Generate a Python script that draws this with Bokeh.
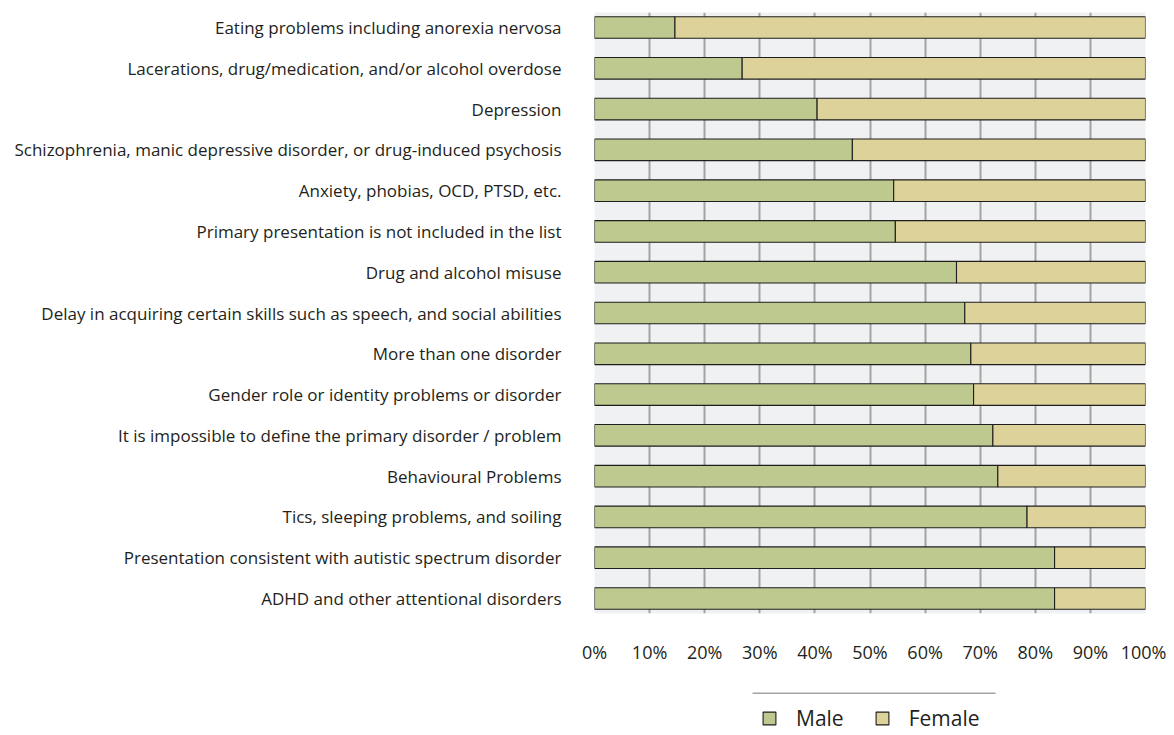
from bokeh.plotting import figure
from bokeh.layouts import column
from bokeh.models import ColumnDataSource, FactorRange, Range1d, FixedTicker, Legend, LegendItem
from bokeh.embed import file_html
from bokeh.resources import INLINE

categories = [
    "Eating problems including anorexia nervosa",
    "Lacerations, drug/medication, and/or alcohol overdose",
    "Depression",
    "Schizophrenia, manic depressive disorder, or drug-induced psychosis",
    "Anxiety, phobias, OCD, PTSD, etc.",
    "Primary presentation is not included in the list",
    "Drug and alcohol misuse",
    "Delay in acquiring certain skills such as speech, and social abilities",
    "More than one disorder",
    "Gender role or identity problems or disorder",
    "It is impossible to define the primary disorder / problem",
    "Behavioural Problems",
    "Tics, sleeping problems, and soiling",
    "Presentation consistent with autistic spectrum disorder",
    "ADHD and other attentional disorders",
]
male = [14.6, 26.8, 40.4, 46.8, 54.3, 54.6, 65.7, 67.2, 68.3, 68.8, 72.3, 73.2, 78.5, 83.5, 83.5]
female = [85.4, 73.2, 59.6, 53.2, 45.7, 45.4, 34.3, 32.8, 31.7, 31.2, 27.7, 26.8, 21.5, 16.5, 16.5]
series = ["Male", "Female"]
x_ticks = [0, 10, 20, 30, 40, 50, 60, 70, 80, 90, 100]
x_tick_labels = ["0%", "10%", "20%", "30%", "40%", "50%", "60%", "70%", "80%", "90%", "100%"]

MALE_C = "#bdc98f"
FEMALE_C = "#ddd39a"
TEXT_C = "#231f20"
BAR_LINE = "#1e1e1e"
GRID_C = "#a3a3a3"
NAN = float("nan")

src = ColumnDataSource(dict(cat=categories, Male=male, Female=female))

# ---------------- main chart ----------------
x_range = Range1d(0, 100)
p = figure(
    width=1166, height=668,
    y_range=FactorRange(factors=list(reversed(categories)), range_padding=-0.132,
                        range_padding_units="absolute"),
    x_range=x_range,
    output_backend="svg", toolbar_location=None,
    min_border_left=594, min_border_right=21, min_border_top=12, min_border_bottom=55,
)
p.background_fill_color = "#f0f1f3"
p.border_fill_color = "white"
p.outline_line_color = None

p.hbar_stack(series, y="cat", height=0.53, source=src,
             color=[MALE_C, FEMALE_C], line_color=BAR_LINE, line_width=1.1)

p.ygrid.grid_line_color = None
p.xgrid.ticker = FixedTicker(ticks=x_ticks)
p.xgrid.grid_line_color = GRID_C
p.xgrid.grid_line_width = 2

p.xaxis.ticker = FixedTicker(ticks=x_ticks)
p.xaxis.major_label_overrides = {t: l for t, l in zip(x_ticks, x_tick_labels)}
p.xaxis.axis_line_color = None
p.xaxis.major_tick_line_color = None
p.xaxis.minor_tick_line_color = None
p.xaxis.major_tick_out = 0
p.xaxis.major_tick_in = 0
p.xaxis.major_label_standoff = 26
p.xaxis.major_label_text_font = "Open Sans"
p.xaxis.major_label_text_font_size = "18px"
p.xaxis.major_label_text_color = TEXT_C

p.yaxis.axis_line_color = None
p.yaxis.major_tick_line_color = None
p.yaxis.minor_tick_line_color = None
p.yaxis.major_tick_out = 0
p.yaxis.major_tick_in = 0
p.yaxis.major_label_standoff = 33
p.yaxis.major_label_text_font = "Open Sans"
p.yaxis.major_label_text_font_size = "17px"
p.yaxis.major_label_text_color = TEXT_C

# ---------------- legend strip (frame aligned with the chart above) ----------------
TOP, BOTTOM = 668, 733
leg = figure(
    width=1166, height=BOTTOM - TOP,
    x_range=x_range, y_range=Range1d(BOTTOM, TOP),
    output_backend="svg", toolbar_location=None,
    x_axis_location=None, y_axis_location=None,
    min_border_left=594, min_border_right=21, min_border_top=0, min_border_bottom=0,
)
leg.outline_line_color = None
leg.grid.visible = False
leg.background_fill_color = "white"
leg.border_fill_color = "white"

# rule above the legend
leg.segment(x0=[28.7], y0=[692.7], x1=[72.8], y1=[692.7], line_color=GRID_C, line_width=1.5)

# legend key renderers (NaN rows: nothing drawn, they only supply the key swatches)
r_m = leg.hbar(y=[NAN], left=[NAN], right=[NAN], height=1, fill_color=MALE_C,
               line_color=BAR_LINE, line_width=1.1)
r_f = leg.hbar(y=[NAN], left=[NAN], right=[NAN], height=1, fill_color=FEMALE_C,
               line_color=BAR_LINE, line_width=1.1)
lg = Legend(items=[LegendItem(label=series[0], renderers=[r_m]),
                   LegendItem(label=series[1], renderers=[r_f])],
            location=(167, 1), orientation="horizontal")
lg.border_line_color = None
lg.background_fill_alpha = 0
lg.padding = 0
lg.margin = 0
lg.glyph_width = 16
lg.glyph_height = 16
lg.label_height = 20
lg.label_standoff = 19
lg.spacing = 30
lg.label_text_font = "Open Sans"
lg.label_text_font_size = "21px"
lg.label_text_color = TEXT_C
leg.add_layout(lg, "center")

layout = column(p, leg, spacing=0)
open("out.html", "w").write(file_html(layout, INLINE))
